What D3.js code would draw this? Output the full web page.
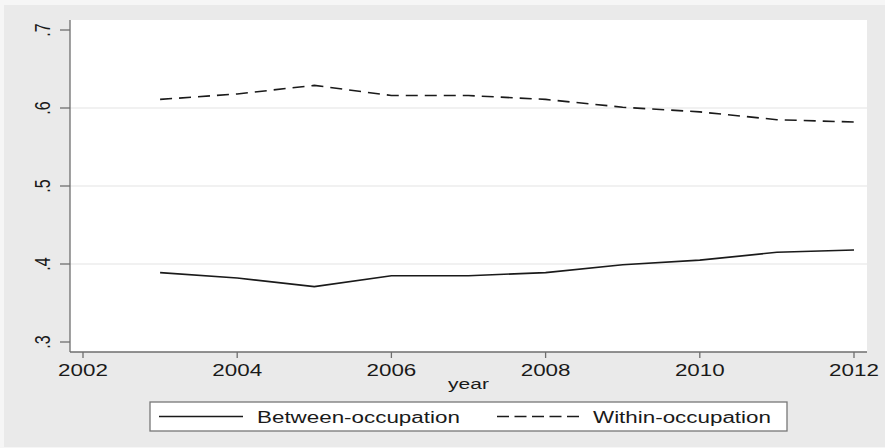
<!DOCTYPE html>
<html>
<head>
<meta charset="utf-8">
<script src="https://cdn.jsdelivr.net/npm/d3@7"></script>
<style>
  html, body { margin: 0; padding: 0; background: #f6f6f6; }
  svg { display: block; }
  text { font-family: "Liberation Sans", Arial, sans-serif; fill: #1a1a1a; }
</style>
</head>
<body>
<svg id="chart"></svg>
<script>
const years = [2003, 2004, 2005, 2006, 2007, 2008, 2009, 2010, 2011, 2012];
const between = [0.389, 0.382, 0.371, 0.385, 0.385, 0.389, 0.399, 0.405, 0.415, 0.418];
const within = [0.611, 0.618, 0.629, 0.616, 0.616, 0.611, 0.601, 0.595, 0.585, 0.582];
const xTicks = [2002, 2004, 2006, 2008, 2010, 2012];
const yTicks = [0.3, 0.4, 0.5, 0.6, 0.7];
const seriesNames = ['Between-occupation', 'Within-occupation'];

const width = 885, height = 448;
const plot = { left: 70, right: 867, top: 20, bottom: 352 };
const sx = 1.4; // the picture is stretched sideways, so is the text

const svg = d3.select('#chart').attr('width', width).attr('height', height);

svg.append('rect')
  .attr('x', 4).attr('y', 5)
  .attr('width', width - 4).attr('height', height - 6)
  .attr('fill', '#eaeaea');

svg.append('rect')
  .attr('x', plot.left).attr('y', plot.top)
  .attr('width', plot.right - plot.left).attr('height', plot.bottom - plot.top)
  .attr('fill', '#fff');

const x = d3.scaleLinear().domain([2002, 2012]).range([83, 854]);
const y = d3.scaleLinear().domain([0.3, 0.7]).range([342, 30]);

// grid on inner ticks
svg.selectAll('line.grid')
  .data(yTicks.slice(1, -1))
  .enter().append('line')
  .attr('x1', plot.left).attr('x2', plot.right)
  .attr('y1', d => y(d)).attr('y2', d => y(d))
  .attr('stroke', '#e4e4e4').attr('stroke-width', 1.2);

// axes
const axisColor = '#6e6e6e';
svg.append('line')
  .attr('x1', plot.left).attr('x2', plot.left)
  .attr('y1', plot.top).attr('y2', plot.bottom)
  .attr('stroke', axisColor).attr('stroke-width', 1.3);
svg.append('line')
  .attr('x1', plot.left).attr('x2', plot.right)
  .attr('y1', plot.bottom).attr('y2', plot.bottom)
  .attr('stroke', axisColor).attr('stroke-width', 1.3);

svg.selectAll('line.ytick')
  .data(yTicks)
  .enter().append('line')
  .attr('x1', plot.left - 10).attr('x2', plot.left)
  .attr('y1', d => y(d)).attr('y2', d => y(d))
  .attr('stroke', axisColor).attr('stroke-width', 1.3);

svg.selectAll('text.ylab')
  .data(yTicks)
  .enter().append('text')
  .attr('transform', d => `translate(50,${y(d)}) scale(${sx},1) rotate(-90)`)
  .attr('text-anchor', 'middle')
  .style('font-size', '16px')
  .text(d => d3.format('.1f')(d).replace(/^0/, ''));

svg.selectAll('line.xtick')
  .data(xTicks)
  .enter().append('line')
  .attr('x1', d => x(d)).attr('x2', d => x(d))
  .attr('y1', plot.bottom).attr('y2', plot.bottom + 6)
  .attr('stroke', axisColor).attr('stroke-width', 1.3);

svg.selectAll('text.xlab')
  .data(xTicks)
  .enter().append('text')
  .attr('transform', d => `translate(${x(d)},376) scale(${sx},1)`)
  .attr('text-anchor', 'middle')
  .style('font-size', '16px')
  .text(d => d);

svg.append('text')
  .attr('transform', `translate(${(plot.left + plot.right) / 2},389) scale(${sx},1)`)
  .attr('text-anchor', 'middle')
  .style('font-size', '15px')
  .text('year');

// lines
const line = d3.line().x((d, i) => x(years[i])).y(d => y(d));
svg.append('path')
  .datum(between)
  .attr('d', line)
  .attr('fill', 'none')
  .attr('stroke', '#1a1a1a').attr('stroke-width', 1.6);
svg.append('path')
  .datum(within)
  .attr('d', line)
  .attr('fill', 'none')
  .attr('stroke', '#1a1a1a').attr('stroke-width', 1.6)
  .attr('stroke-dasharray', '12,7');

// legend
const lg = svg.append('g');
lg.append('rect')
  .attr('x', 150).attr('y', 402)
  .attr('width', 637).attr('height', 29)
  .attr('fill', '#fff')
  .attr('stroke', '#777').attr('stroke-width', 1.3);

const legendItems = [
  { name: seriesNames[0], x0: 159, x1: 243, tx: 257, dash: null },
  { name: seriesNames[1], x0: 497, x1: 582, tx: 593, dash: '12,5.5' }
];
legendItems.forEach(it => {
  lg.append('line')
    .attr('x1', it.x0).attr('x2', it.x1)
    .attr('y1', 416.5).attr('y2', 416.5)
    .attr('stroke', '#1a1a1a').attr('stroke-width', 1.6)
    .attr('stroke-dasharray', it.dash);
  lg.append('text')
    .attr('transform', `translate(${it.tx},423) scale(${sx},1)`)
    .style('font-size', '16px')
    .text(it.name);
});
</script>
</body>
</html>
